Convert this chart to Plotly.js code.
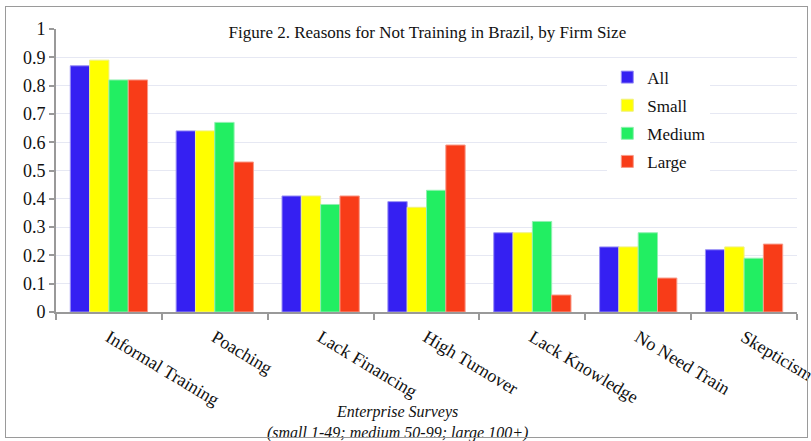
<!DOCTYPE html>
<html>
<head>
<meta charset="utf-8">
<script src="https://cdn.plot.ly/plotly-3.0.1.min.js"></script>
<style>
body{margin:0;padding:0;background:#fff;}
#wrap{position:relative;width:811px;height:441px;}
#chart{width:811px;height:441px;}
#frame{position:absolute;left:5px;top:6px;width:801px;height:430px;border:1px solid #9a9a9a;pointer-events:none;}
</style>
</head>
<body>
<div id="wrap"><div id="chart"></div><div id="frame"></div></div>
<script>
const categories = ["Informal Training","Poaching","Lack Financing","High Turnover","Lack Knowledge","No Need Train","Skepticism"];
const seriesNames = ["All","Small","Medium","Large"];
const allVals    = [0.87,0.64,0.41,0.39,0.28,0.23,0.22];
const smallVals  = [0.89,0.64,0.41,0.37,0.28,0.23,0.23];
const mediumVals = [0.82,0.67,0.38,0.43,0.32,0.28,0.19];
const largeVals  = [0.82,0.53,0.41,0.59,0.06,0.12,0.24];
const colors = ["#3520F2","#FFFF00","#22EE62","#F83C18"];
const lineColors = ["#9a90f5","#f0f080","#90f0b0","#f89a88"];
const yTicks = [0,0.1,0.2,0.3,0.4,0.5,0.6,0.7,0.8,0.9,1];
const yTickText = ["0","0.1","0.2","0.3","0.4","0.5","0.6","0.7","0.8","0.9","1"];
const xTitle = "<i>Enterprise Surveys</i><br><i>(small 1-49; medium 50-99; large 100+)</i>";

const vals = [allVals, smallVals, mediumVals, largeVals];
const traces = vals.map((v,i)=>({
  type:'bar', x:categories, y:v, name:seriesNames[i], legendgroup:'g'+i,
  marker:{color:colors[i], line:{color:lineColors[i], width:1}}
}));
const font = "Times New Roman, Liberation Serif, serif";
const layout = {
  width:811, height:441,
  margin:{l:56, r:14, t:29, b:129},
  paper_bgcolor:'#fff', plot_bgcolor:'#fff',
  barmode:'group', bargap:0.27, bargroupgap:0,
  font:{family:font, color:'#111'},
  title:{text:"Figure 2. Reasons for Not Training in Brazil, by Firm Size", x:0.527, xanchor:'center', y:0.927, yanchor:'middle', font:{family:font, size:17, color:'#111'}},
  showlegend:true,
  legend:{x:0.744, xanchor:'left', y:0.892, yanchor:'top', bgcolor:'#fff', font:{family:font, size:17, color:'#111'}, traceorder:'grouped', tracegroupgap:3, itemwidth:30},
  xaxis:{type:'category', tickson:'boundaries', ticks:'outside', ticklen:6, tickcolor:'#999', tickwidth:2,
    showline:true, linecolor:'#999', linewidth:2, tickangle:31, ticklabelstandoff:6, tickfont:{family:font, size:18, color:'#111'},
    showgrid:false, zeroline:false, automargin:false},
  yaxis:{range:[0,1], tickvals:yTicks, ticktext:yTickText, ticks:'outside', ticklen:5, tickcolor:'#999', tickwidth:2,
    showline:true, linecolor:'#999', linewidth:2, gridcolor:'#e6e8f3', gridwidth:1, zeroline:false,
    tickfont:{family:font, size:18, color:'#111'}, automargin:false},
  annotations:[{text:xTitle, xref:'paper', yref:'paper', x:0.4615, y:-0.389, xanchor:'center', yanchor:'middle',
    showarrow:false, font:{family:font, size:16, color:'#111'}}]
};
Plotly.newPlot('chart', traces, layout, {displayModeBar:false, staticPlot:true});
</script>
</body>
</html>
